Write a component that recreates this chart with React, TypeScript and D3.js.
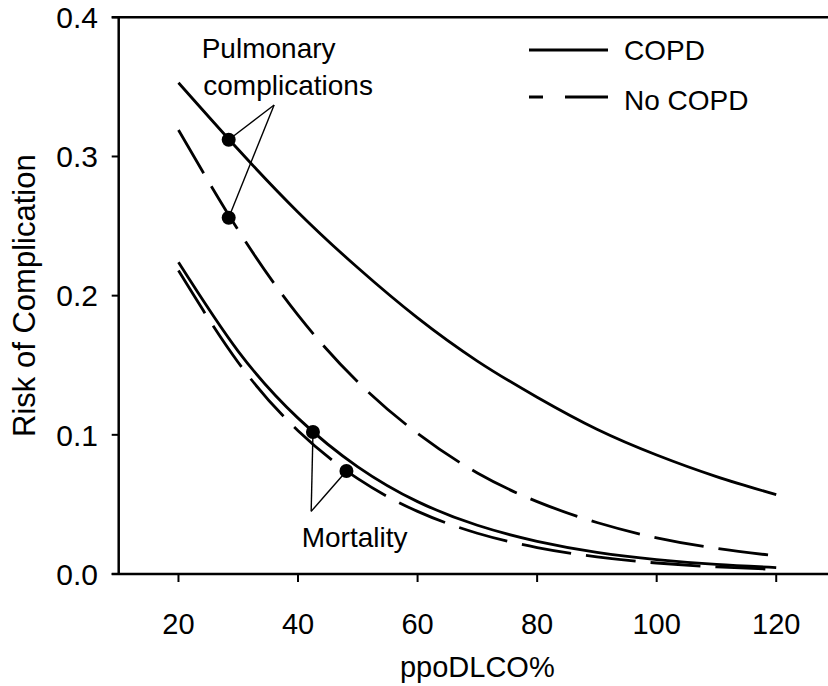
import * as d3 from "d3";

// values
const ppo = [20, 30, 40, 50, 60, 70, 80, 90, 100, 110, 120];
const copdPulmonary = [0.353, 0.305, 0.260, 0.220, 0.184, 0.153, 0.127, 0.104, 0.0855, 0.070, 0.057];
const noCopdPulmonary = [0.319, 0.247, 0.186, 0.138, 0.101, 0.0726, 0.052, 0.037, 0.026, 0.0184, 0.013];
const copdMortality = [0.224, 0.160, 0.112, 0.077, 0.052, 0.035, 0.0235, 0.0156, 0.0104, 0.0069, 0.0046];
const noCopdMortality = [0.218, 0.152, 0.103, 0.0685, 0.045, 0.0293, 0.019, 0.0123, 0.0079, 0.0051, 0.0033];

const markerX = [28.4, 28.4, 42.5, 48.1];
const markerY = [0.312, 0.256, 0.102, 0.074];

const xTicks = [20, 40, 60, 80, 100, 120];
const yTicks = [0, 0.1, 0.2, 0.3, 0.4];

const font = "'Liberation Sans', Arial, Helvetica, sans-serif";

function Chart() {
  const W = 828;
  const H = 686;
  const x = d3.scaleLinear().domain([10, 130]).range([118.7, 836]);
  const y = d3.scaleLinear().domain([0, 0.4]).range([574, 17.3]);

  const line = d3
    .line<[number, number]>()
    .x((d) => x(d[0]))
    .y((d) => y(d[1]))
    .curve(d3.curveNatural);

  const series = [
    { vals: copdPulmonary, dash: null },
    { vals: noCopdPulmonary, dash: "50,15" },
    { vals: copdMortality, dash: null },
    { vals: noCopdMortality, dash: "50,15" },
  ];

  const x0 = x(10);
  const yb = y(0);

  // annotation apex points (data units)
  const pulmApex = [36, 0.337];
  const mortApex = [42.2, 0.045];

  return (
    <svg width={W} height={H} style={{ position: "absolute", left: 0, top: 0, background: "#fff" }} fontFamily={font}>
      {/* curves */}
      {series.map((s, i) => (
        <path
          key={i}
          d={line(ppo.map((p, j) => [p, s.vals[j]])) || ""}
          fill="none"
          stroke="#000"
          strokeWidth={2.8}
          strokeDasharray={s.dash || undefined}
        />
      ))}

      {/* leader lines */}
      <line x1={x(pulmApex[0])} y1={y(pulmApex[1])} x2={x(markerX[0])} y2={y(markerY[0])} stroke="#000" strokeWidth={1.4} />
      <line x1={x(pulmApex[0])} y1={y(pulmApex[1])} x2={x(markerX[1])} y2={y(markerY[1])} stroke="#000" strokeWidth={1.4} />
      <line x1={x(mortApex[0])} y1={y(mortApex[1])} x2={x(markerX[2])} y2={y(markerY[2])} stroke="#000" strokeWidth={1.4} />
      <line x1={x(mortApex[0])} y1={y(mortApex[1])} x2={x(markerX[3])} y2={y(markerY[3])} stroke="#000" strokeWidth={1.4} />

      {markerX.map((mx, i) => (
        <circle key={i} cx={x(mx)} cy={y(markerY[i])} r={7} fill="#000" />
      ))}

      {/* annotation text */}
      <text x={201.7} y={58.3} fontSize={28}>Pulmonary</text>
      <text x={203.3} y={95} fontSize={28}>complications</text>
      <text x={301.7} y={547} fontSize={28}>Mortality</text>

      {/* legend */}
      <line x1={529} x2={608} y1={50} y2={50} stroke="#000" strokeWidth={3} />
      <text x={624} y={60} fontSize={28}>COPD</text>
      <line x1={529} x2={608} y1={97} y2={97} stroke="#000" strokeWidth={3} strokeDasharray="14,22,43" />
      <text x={624} y={110} fontSize={28}>No COPD</text>

      {/* axes */}
      <line x1={x0} x2={x0} y1={y(0.4)} y2={yb} stroke="#000" strokeWidth={2.5} />
      <line x1={x0 - 7} x2={W} y1={yb} y2={yb} stroke="#000" strokeWidth={2.5} />
      <line x1={x0 - 7} x2={W} y1={y(0.4)} y2={y(0.4)} stroke="#000" strokeWidth={2.5} />
      {yTicks.map((t) => (
        <g key={t}>
          <line x1={x0 - 7} x2={x0} y1={y(t)} y2={y(t)} stroke="#000" strokeWidth={2} />
          <text x={98} y={y(t)} dy="0.36em" textAnchor="end" fontSize={30}>
            {t.toFixed(1)}
          </text>
        </g>
      ))}
      {xTicks.map((t) => (
        <g key={t}>
          <line x1={x(t)} x2={x(t)} y1={yb} y2={yb + 8} stroke="#000" strokeWidth={2} />
          <text x={x(t)} y={634} textAnchor="middle" fontSize={29}>
            {t}
          </text>
        </g>
      ))}
      <text x={(x(10) + x(130)) / 2} y={677} textAnchor="middle" fontSize={29}>
        ppoDLCO%
      </text>
      <text transform={`translate(35,${(y(0) + y(0.4)) / 2}) rotate(-90)`} textAnchor="middle" fontSize={31}>
        Risk of Complication
      </text>
    </svg>
  );
}

export default function App() {
  return (
    <div>
      <Chart />
    </div>
  );
}
